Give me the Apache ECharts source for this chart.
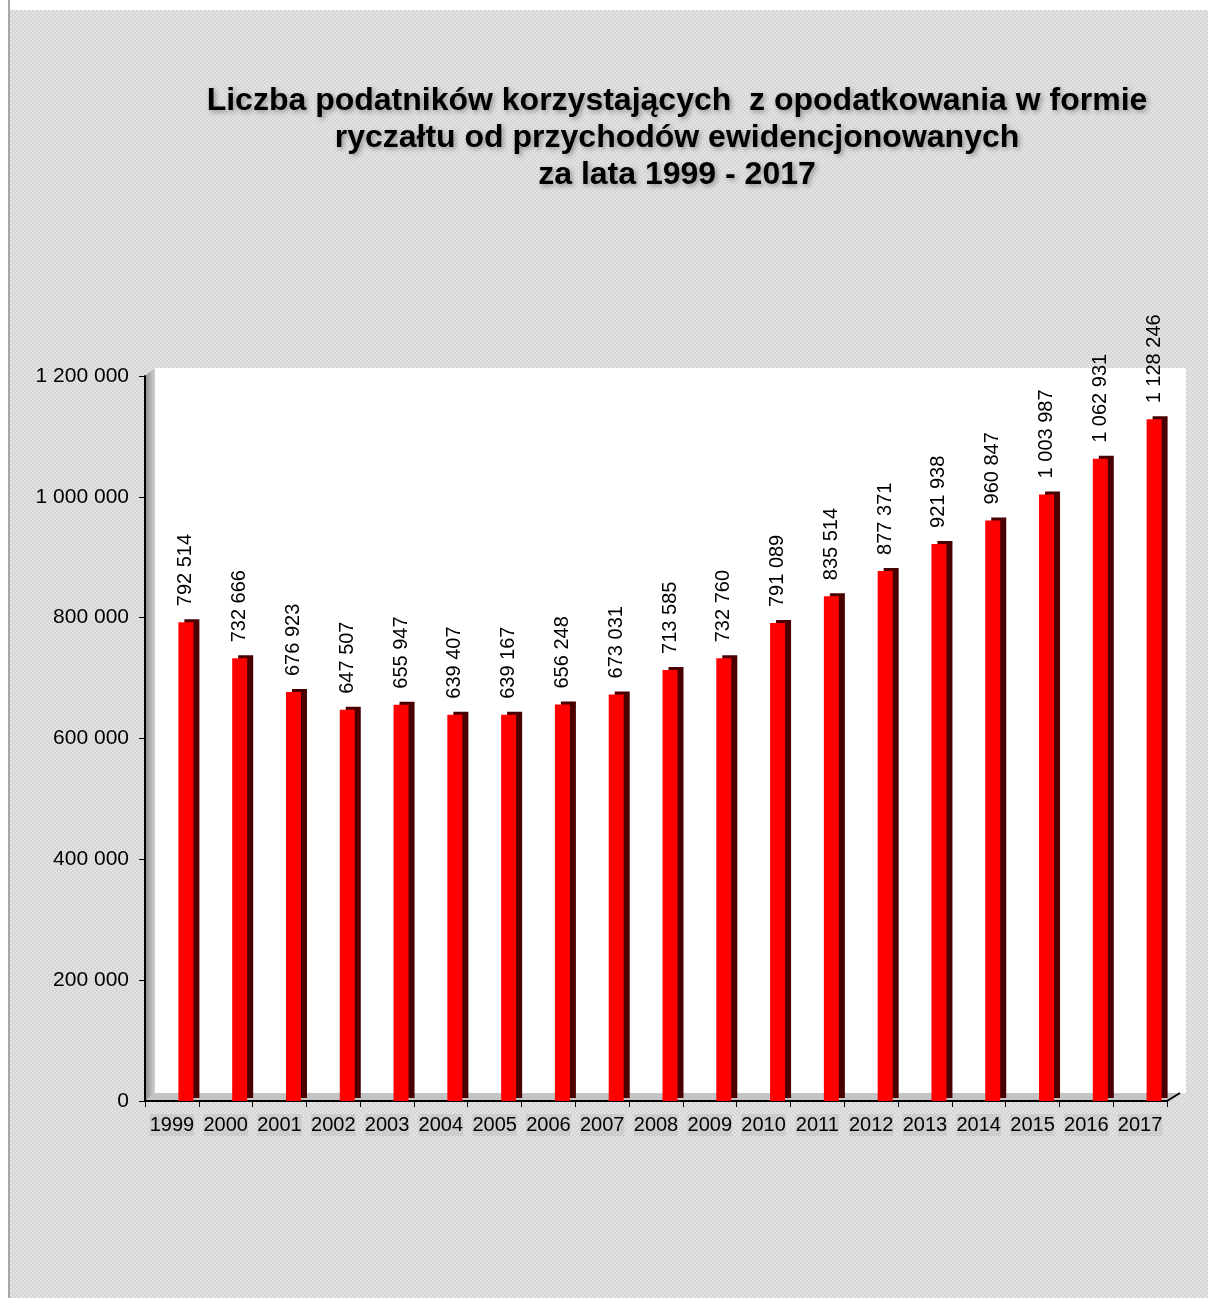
<!DOCTYPE html>
<html><head><meta charset="utf-8">
<script src="https://cdn.jsdelivr.net/npm/echarts@6/dist/echarts.min.js"></script>
<style>
html,body{margin:0;padding:0;}
body{width:1208px;height:1298px;background-color:#e2e2e2;
background-image:linear-gradient(45deg,#d6d6d6 25%,transparent 25%,transparent 75%,#d6d6d6 75%),linear-gradient(45deg,#d6d6d6 25%,transparent 25%,transparent 75%,#d6d6d6 75%);
background-size:4px 4px;background-position:0 0,2px 2px;}
#edge{position:absolute;left:0;top:0;width:8px;height:1298px;background:#fff;border-right:2px solid #a8a8a8;}
#topedge{position:absolute;left:0;top:0;width:1208px;height:10px;background:#fff;}
#chart{position:absolute;left:0;top:0;width:1208px;height:1298px;}
</style></head>
<body>
<div id="topedge"></div><div id="edge"></div>
<div id="chart"></div>
<script>
const categories = ['1999','2000','2001','2002','2003','2004','2005','2006','2007','2008','2009','2010','2011','2012','2013','2014','2015','2016','2017'];
const taxpayers = [792514,732666,676923,647507,655947,639407,639167,656248,673031,713585,732760,791089,835514,877371,921938,960847,1003987,1062931,1128246];
const baseline = [0,0,0,0,0,0,0,0,0,0,0,0,0,0,0,0,0,0,0];
const yTicks = [0,200000,400000,600000,800000,1000000,1200000];

function fmt(v){return String(v).replace(/\B(?=(\d{3})+(?!\d))/g,' ');}

const chart = echarts.init(document.getElementById('chart'), null, {renderer:'canvas'});
chart.setOption({
  backgroundColor:'transparent',
  animation:false,
  title:{
    text:'Liczba podatników korzystających  z opodatkowania w formie\nryczałtu od przychodów ewidencjonowanych\nza lata 1999 - 2017',
    left:672, top:78, textAlign:'center',
    textStyle:{fontFamily:'Liberation Sans, Arial', fontSize:32, fontWeight:'bold', color:'#000', lineHeight:37,
      textShadowColor:'rgba(80,80,80,0.55)', textShadowBlur:5, textShadowOffsetX:2, textShadowOffsetY:2}
  },
  graphic:[
    {type:'polygon', z:-10, silent:true, shape:{points:[[155,368],[1186,368],[1186,1093],[155,1093]]}, style:{fill:'#ffffff'}},
    {type:'polygon', z:-9, silent:true, shape:{points:[[145,376],[155,368],[155,1093],[145,1101]]},
      style:{fill:new echarts.graphic.LinearGradient(0,0,1,0,[{offset:0,color:'#8c8c8c'},{offset:1,color:'#d0d0d0'}])}},
    {type:'polygon', z:-9, silent:true, shape:{points:[[145,1101],[155,1093],[1180,1093],[1167,1101]]}, style:{fill:'#c4c4c4'}},
    {type:'line', z:-8, silent:true, shape:{x1:1167,y1:1101,x2:1180,y2:1093}, style:{stroke:'#000',lineWidth:2}}
  ],
  grid:{left:145, right:41, top:376, bottom:197, show:false},
  xAxis:{
    type:'category', data:categories,
    axisLine:{lineStyle:{color:'#000', width:2}},
    axisTick:{show:true, lineStyle:{color:'#000'}, length:6},
    axisLabel:{interval:0, hideOverlap:false, fontFamily:'Liberation Sans, Arial', fontSize:20, color:'#000', margin:13,
      backgroundColor:'rgba(190,190,190,0.5)', padding:[1,0]}
  },
  yAxis:{
    type:'value', min:0, max:1200000, interval:200000,
    axisLine:{show:true, lineStyle:{color:'#000', width:2}},
    axisTick:{show:true, length:6, lineStyle:{color:'#000'}},
    splitLine:{show:false},
    axisLabel:{fontFamily:'Liberation Sans, Arial', fontSize:21, color:'#000', margin:16,
      formatter:function(v){return yTicks.indexOf(v)>=0?fmt(v):'';}}
  },
  series:[
    {type:'bar', name:'base', data:baseline, barWidth:14, barGap:'100%', itemStyle:{color:'#8888cc'}, silent:true},
    {type:'bar', name:'Liczba podatników', data:taxpayers, barWidth:15, barGap:'100%',
      itemStyle:{color:'#ff0000', borderWidth:0,
        shadowColor:'#4a0000', shadowBlur:0, shadowOffsetX:6, shadowOffsetY:-3},
      label:{show:true, position:'top', rotate:90, distance:16, align:'left', verticalAlign:'middle',
        fontFamily:'Liberation Sans, Arial', fontSize:20, color:'#000',
        formatter:function(p){return fmt(p.value);}}
    }
  ]
});
</script>
</body></html>
